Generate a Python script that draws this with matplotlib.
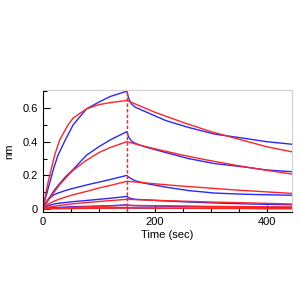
import matplotlib
matplotlib.use("Agg")
import matplotlib.pyplot as plt
from matplotlib.ticker import MultipleLocator, FuncFormatter

# measured curves (blue), one per concentration
# association phase, 0-150 s
t_assoc = [0, 5, 10, 20, 27, 40, 54, 78, 100, 120, 150]
data_assoc = [
    [0, 0.07, 0.13, 0.25, 0.32, 0.41, 0.50, 0.595, 0.635, 0.668, 0.70],
    [0, 0.03, 0.06, 0.11, 0.14, 0.19, 0.235, 0.32, 0.37, 0.41, 0.46],
    [0, 0.035, 0.06, 0.085, 0.095, 0.11, 0.123, 0.143, 0.16, 0.175, 0.20],
    [0, 0.012, 0.02, 0.03, 0.034, 0.039, 0.044, 0.051, 0.058, 0.064, 0.075],
    [0, 0.003, 0.006, 0.009, 0.010, 0.012, 0.014, 0.016, 0.018, 0.020, 0.025],
    [0, 0.002, 0.003, 0.004, 0.004, 0.005, 0.005, 0.006, 0.006, 0.007, 0.008],
]
# dissociation phase, 150-445 s
t_dissoc = [150, 153, 158, 165, 182, 220, 260, 307, 360, 400, 445]
data_dissoc = [
    [0.70, 0.66, 0.625, 0.605, 0.58, 0.525, 0.485, 0.445, 0.42, 0.40, 0.385],
    [0.46, 0.43, 0.405, 0.39, 0.37, 0.335, 0.30, 0.27, 0.25, 0.232, 0.222],
    [0.20, 0.19, 0.18, 0.168, 0.153, 0.13, 0.11, 0.095, 0.088, 0.085, 0.082],
    [0.075, 0.068, 0.062, 0.058, 0.055, 0.048, 0.042, 0.036, 0.031, 0.028, 0.025],
    [0.025, 0.023, 0.021, 0.020, 0.019, 0.017, 0.015, 0.013, 0.012, 0.011, 0.010],
    [0.008, 0.007, 0.007, 0.006, 0.006, 0.005, 0.005, 0.004, 0.004, 0.003, 0.003],
]

# fitted curves (red)
t_fit_assoc = [0, 5, 10, 21, 30, 45, 54, 78, 100, 120, 150]
fit_assoc = [
    [0, 0.09, 0.17, 0.32, 0.41, 0.50, 0.54, 0.595, 0.62, 0.632, 0.645],
    [0, 0.028, 0.054, 0.105, 0.145, 0.20, 0.23, 0.29, 0.335, 0.365, 0.40],
    [0, 0.018, 0.03, 0.048, 0.06, 0.076, 0.085, 0.105, 0.125, 0.14, 0.165],
    [0, 0.006, 0.011, 0.017, 0.022, 0.028, 0.031, 0.039, 0.045, 0.050, 0.058],
    [0, 0.002, 0.003, 0.005, 0.007, 0.009, 0.010, 0.013, 0.016, 0.018, 0.022],
    [0, 0.001, 0.001, 0.002, 0.002, 0.003, 0.003, 0.004, 0.005, 0.005, 0.006],
]
t_fit_dissoc = [150, 175, 200, 250, 300, 350, 400, 445]
fit_dissoc = [
    [0.645, 0.61, 0.575, 0.515, 0.46, 0.415, 0.37, 0.34],
    [0.40, 0.378, 0.358, 0.32, 0.287, 0.257, 0.23, 0.208],
    [0.165, 0.158, 0.150, 0.136, 0.124, 0.112, 0.102, 0.093],
    [0.058, 0.055, 0.052, 0.047, 0.042, 0.038, 0.034, 0.030],
    [0.022, 0.021, 0.020, 0.018, 0.016, 0.015, 0.013, 0.012],
    [0.006, 0.006, 0.005, 0.005, 0.004, 0.004, 0.003, 0.003],
]

plt.rcParams['font.family'] = ['Liberation Sans', 'DejaVu Sans']

fig = plt.figure(figsize=(3, 3), dpi=100)
ax = fig.add_axes([0.143, 0.293, 0.83, 0.407])

blue = '#2828ff'
red = '#ff2424'
for i in range(len(data_assoc)):
    ax.plot(t_assoc + t_dissoc, data_assoc[i] + data_dissoc[i], color=blue, lw=1)
for i in range(len(fit_assoc)):
    ax.plot(t_fit_assoc + t_fit_dissoc, fit_assoc[i] + fit_dissoc[i], color=red, lw=1)

# end of association marker
ax.vlines(150, -0.02, 0.70, colors=red, linestyles=(0, (2.5, 1.5)), lw=1)

ax.set_xlim(0, 445)
ax.set_ylim(-0.018, 0.707)
ax.xaxis.set_major_locator(MultipleLocator(200))
ax.xaxis.set_minor_locator(MultipleLocator(50))
ax.yaxis.set_major_locator(MultipleLocator(0.2))
ax.yaxis.set_minor_locator(MultipleLocator(0.1))
ax.yaxis.set_major_formatter(FuncFormatter(lambda v, p: "0" if abs(v) < 1e-9 else f"{v:.1f}"))
ax.tick_params(which='both', direction='in', labelsize=8, width=0.8)
ax.tick_params(which='major', length=5)
ax.tick_params(which='minor', length=3)
for s in ['top', 'right']:
    ax.spines[s].set_color('#d0d0d0')
ax.spines['left'].set_linewidth(0.8)
ax.spines['bottom'].set_linewidth(0.8)

ax.set_xlabel("Time (sec)", fontsize=8, labelpad=2)
ax.set_ylabel("nm", fontsize=8, labelpad=6)

fig.savefig("out.png", dpi=100)
